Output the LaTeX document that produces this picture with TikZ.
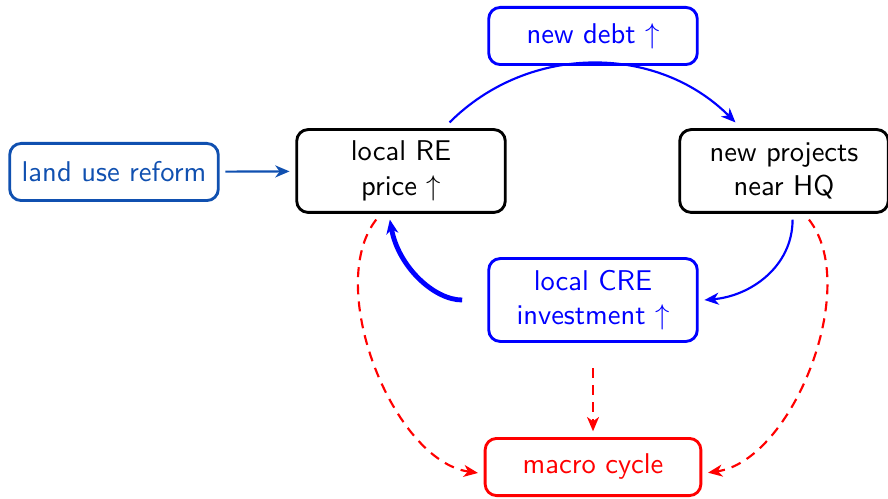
\documentclass[tikz,border=0pt]{standalone}
\usetikzlibrary{arrows.meta}
\definecolor{landblue}{RGB}{16,80,176}
\begin{document}
\begin{tikzpicture}[x=0.35pt,y=-0.35pt,font=\sffamily,
  box/.style={draw,rounded corners=4pt,line width=1pt,align=center,
    minimum width=73pt,minimum height=20pt,inner sep=4pt,outer sep=2.5pt},
  arr/.style={-{Stealth[length=5pt,width=4.2pt,inset=1.5pt]},line width=0.75pt},
  dasharr/.style={arr,dash pattern=on 3.5pt off 2.5pt}]
\useasboundingbox (0,0) rectangle (888,498);
\node[box,landblue,text=landblue] (land) at (114,172) {land use reform};
\node[box,minimum height=29pt] (re) at (401,171) {local RE\\price $\uparrow$};
\node[box,blue,text=blue] (debt) at (593,36) {new debt $\uparrow$};
\node[box,minimum height=29pt] (np) at (784,171) {new projects\\near HQ};
\node[box,blue,text=blue,minimum height=29pt] (cre) at (593,300) {local CRE\\investment $\uparrow$};
\node[box,red,text=red,minimum width=75.5pt] (macro) at (593,467) {macro cycle};
\draw[arr,landblue] (land) -- (re);
\draw[arr,blue] (re) to[bend left=45] (np);
\draw[arr,blue] ([xshift=3pt]np.south) to[out=-90,in=5] (cre.east);
\draw[arr,blue,line width=1.7pt,shorten <=6.8pt] (cre.west) to[out=180,in=-80] ([xshift=-3.9pt]re.south);
\draw[dasharr,red] (re) to[bend right=60,looseness=0.8] (macro);
\draw[dasharr,red] (np) to[bend left=60,looseness=0.8] (macro);
\draw[dasharr,red,shorten <=6.8pt] (cre) -- (macro);
\end{tikzpicture}
\end{document}
